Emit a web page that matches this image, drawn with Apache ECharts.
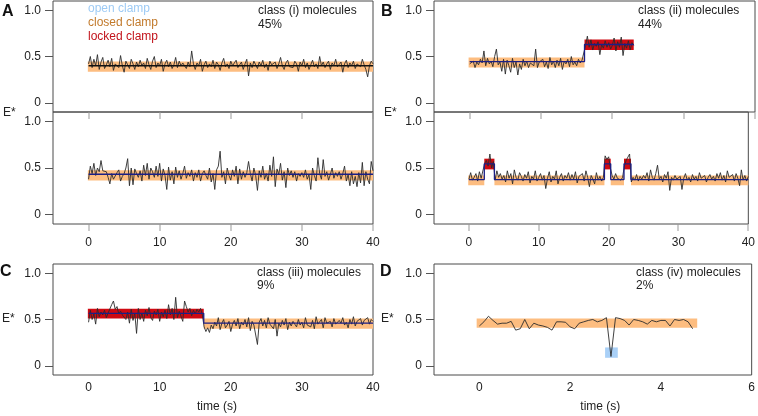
<!DOCTYPE html>
<html>
<head>
<meta charset="utf-8">
<script src="https://cdn.jsdelivr.net/npm/echarts@6/dist/echarts.min.js"></script>
<style>
  html, body { margin: 0; padding: 0; background: #fff; }
  #chart { width: 758px; height: 416px; }
</style>
</head>
<body>
<div id="chart"></div>
<script>
// E* traces sampled every 0.25 s
const dt = 0.25
const traceA1 = [
  0.42,0.50,0.38,0.47,0.40,0.52,0.36,0.44,0.49,0.37,0.41,0.46,0.39,0.48,0.35,0.42,0.44,0.38,0.51,0.40,
  0.33,0.45,0.41,0.37,0.47,0.42,0.36,0.44,0.39,0.46,0.40,0.43,0.37,0.48,0.41,0.36,0.45,0.50,0.38,0.43,
  0.40,0.47,0.34,0.42,0.46,0.39,0.44,0.37,0.41,0.49,0.38,0.45,0.40,0.43,0.41,0.37,0.44,0.39,0.56,0.42,
  0.36,0.43,0.40,0.47,0.34,0.41,0.45,0.38,0.42,0.39,0.46,0.37,0.44,0.41,0.35,0.43,0.48,0.39,0.42,0.37,
  0.45,0.40,0.43,0.46,0.38,0.41,0.44,0.36,0.42,0.47,0.29,0.43,0.38,0.45,0.41,0.37,0.44,0.40,0.46,0.38,
  0.42,0.35,0.45,0.41,0.39,0.44,0.37,0.42,0.49,0.40,0.36,0.43,0.46,0.39,0.41,0.38,0.45,0.42,0.34,0.44,
  0.40,0.47,0.38,0.43,0.36,0.41,0.46,0.39,0.42,0.37,0.50,0.40,0.44,0.38,0.42,0.45,0.36,0.43,0.40,0.47,
  0.39,0.41,0.44,0.33,0.42,0.46,0.38,0.43,0.40,0.45,0.37,0.42,0.44,0.39,0.47,0.41,0.36,0.28,0.40,0.45,0.42
]
const traceA2 = [
  0.38,0.52,0.44,0.55,0.42,0.50,0.46,0.58,0.47,0.45,0.46,0.40,0.33,0.44,0.38,0.40,0.45,0.48,0.36,0.41,
  0.44,0.50,0.60,0.31,0.50,0.32,0.49,0.44,0.40,0.47,0.36,0.53,0.42,0.55,0.38,0.50,0.46,0.40,0.52,0.41,
  0.55,0.36,0.49,0.42,0.27,0.51,0.37,0.46,0.33,0.51,0.40,0.47,0.38,0.44,0.52,0.39,0.45,0.41,0.48,0.36,
  0.45,0.40,0.48,0.36,0.44,0.47,0.42,0.38,0.50,0.35,0.44,0.27,0.48,0.52,0.68,0.40,0.46,0.33,0.50,0.42,
  0.37,0.48,0.41,0.52,0.33,0.49,0.38,0.46,0.40,0.45,0.57,0.44,0.36,0.50,0.42,0.26,0.47,0.40,0.52,0.38,
  0.44,0.36,0.53,0.41,0.62,0.30,0.49,0.43,0.55,0.37,0.46,0.29,0.50,0.42,0.47,0.40,0.46,0.36,0.44,0.41,
  0.45,0.40,0.48,0.38,0.43,0.27,0.50,0.42,0.36,0.61,0.44,0.38,0.59,0.41,0.46,0.37,0.43,0.50,0.39,0.45,
  0.41,0.46,0.38,0.44,0.52,0.36,0.43,0.31,0.46,0.33,0.41,0.30,0.45,0.34,0.56,0.31,0.46,0.38,0.33,0.57,0.47
]
const traceB1 = [
  0.42,0.40,0.45,0.38,0.44,0.41,0.47,0.43,0.56,0.40,0.48,0.42,0.45,0.39,0.50,0.58,0.41,0.44,0.34,0.47,
  0.31,0.46,0.40,0.33,0.48,0.38,0.44,0.30,0.42,0.36,0.47,0.40,0.45,0.38,0.43,0.41,0.40,0.58,0.38,0.44,
  0.42,0.47,0.39,0.44,0.37,0.49,0.41,0.45,0.38,0.46,0.40,0.48,0.36,0.45,0.42,0.47,0.39,0.50,0.41,0.44,
  0.40,0.47,0.43,0.46,0.44,
  0.62,0.72,0.60,0.68,0.57,0.64,0.61,0.66,0.52,0.63,0.59,0.67,0.60,0.65,0.58,0.62,0.70,0.56,0.66,0.60,
  0.71,0.51,0.64,0.59,0.67,0.57,0.65,0.62
]
const traceB2 = [
  0.38,0.45,0.37,0.40,0.44,0.36,0.46,0.39,0.41,0.55,0.58,0.52,0.65,0.50,0.57,0.37,0.47,0.40,0.44,0.38,
  0.42,0.35,0.47,0.39,0.44,0.33,0.48,0.40,0.37,0.45,0.41,0.36,0.43,0.39,0.46,0.34,0.41,0.38,0.47,0.36,
  0.40,0.44,0.37,0.42,0.28,0.39,0.46,0.35,0.41,0.38,0.47,0.33,0.40,0.44,0.36,0.42,0.39,0.45,0.37,0.43,
  0.38,0.46,0.34,0.41,0.39,0.44,0.36,0.47,0.40,0.30,0.42,0.38,0.33,0.45,0.37,0.41,0.36,0.40,0.63,0.59,
  0.62,0.50,0.42,0.38,0.44,0.39,0.41,0.37,0.40,0.52,0.58,0.56,0.65,0.35,0.40,0.37,0.43,0.36,0.41,0.38,
  0.42,0.39,0.45,0.36,0.48,0.40,0.37,0.44,0.53,0.38,0.41,0.35,0.43,0.39,0.46,0.26,0.40,0.37,0.42,0.38,
  0.36,0.41,0.27,0.39,0.44,0.37,0.40,0.35,0.43,0.38,0.41,0.36,0.45,0.39,0.37,0.42,0.35,0.40,0.43,0.38,
  0.41,0.36,0.44,0.39,0.45,0.37,0.42,0.35,0.47,0.40,0.38,0.43,0.36,0.44,0.39,0.31,0.48,0.37,0.42,0.36,0.41
]
const traceC = [
  0.47,0.60,0.50,0.56,0.45,0.62,0.53,0.58,0.55,0.60,0.52,0.57,0.59,0.66,0.70,0.61,0.64,0.56,0.59,0.55,
  0.53,0.50,0.58,0.46,0.61,0.49,0.57,0.35,0.62,0.50,0.57,0.48,0.60,0.54,0.63,0.52,0.49,0.59,0.55,0.61,
  0.48,0.58,0.53,0.60,0.51,0.66,0.55,0.62,0.50,0.74,0.52,0.59,0.57,0.48,0.70,0.64,0.58,0.62,0.54,0.60,
  0.56,0.61,0.58,0.62,0.55,0.42,0.37,0.41,0.36,0.44,0.40,0.47,0.43,0.52,0.39,0.46,0.50,0.41,0.44,0.48,
  0.37,0.45,0.49,0.43,0.51,0.40,0.47,0.44,0.50,0.42,0.52,0.38,0.48,0.44,0.46,0.23,0.47,0.51,0.43,0.49,
  0.41,0.52,0.45,0.47,0.40,0.50,0.32,0.46,0.42,0.49,0.44,0.51,0.39,0.47,0.43,0.48,0.45,0.42,0.50,0.44,
  0.47,0.41,0.52,0.44,0.46,0.42,0.49,0.40,0.53,0.45,0.43,0.50,0.41,0.52,0.46,0.44,0.48,0.42,0.51,0.45,
  0.43,0.49,0.46,0.52,0.44,0.47,0.41,0.50,0.45,0.53,0.43,0.48,0.46,0.51,0.44,0.49,0.47,0.52,0.45,0.50,0.48
]
// class (iv) trace sampled every 0.1 s
const dtD = 0.1
const traceD = [
  0.43,0.475,0.535,0.49,0.45,0.46,0.46,0.48,0.385,0.40,0.50,0.40,0.46,0.44,0.43,0.415,0.385,0.475,0.475,0.47,
  0.42,0.40,0.46,0.475,0.49,0.50,0.475,0.49,0.52,0.10,0.52,0.51,0.49,0.44,0.50,0.49,0.475,0.45,0.49,0.475,
  0.49,0.49,0.43,0.50,0.49,0.50,0.475,0.40
]

// state bands: [start s, end s, low E*, high E*, state]
const bandsA1 = [[-0.1, 40, 0.335, 0.445, 'closed']]
const bandsA2 = [[-0.1, 40, 0.365, 0.475, 'closed']]
const bandsB1 = [[-0.15, 16.1, 0.38, 0.49, 'closed'], [16.1, 23.0, 0.57, 0.685, 'locked']]
const bandsB2 = [
  [-0.1, 2.2, 0.315, 0.42, 'closed'], [2.2, 3.65, 0.485, 0.60, 'locked'],
  [3.65, 19.4, 0.315, 0.42, 'closed'], [19.4, 20.3, 0.485, 0.60, 'locked'],
  [20.3, 22.2, 0.315, 0.42, 'closed'], [22.2, 23.2, 0.485, 0.60, 'locked'],
  [23.2, 40, 0.315, 0.42, 'closed']
]
const bandsC = [[-0.1, 16.2, 0.51, 0.617, 'locked'], [16.2, 40, 0.40, 0.51, 'closed']]
const bandsD = [[-0.06, 4.8, 0.41, 0.51, 'closed'], [2.77, 3.05, 0.086, 0.198, 'open']]

// fitted levels: [time of change, level]
const fitA1 = [[0, 0.40], [40, 0.40]]
const fitA2 = [[0, 0.433], [40, 0.433]]
const fitB1 = [[0, 0.445], [16.1, 0.63], [23.0, 0.63]]
const fitB2 = [[0, 0.376], [2.2, 0.545], [3.65, 0.376], [19.4, 0.545], [20.3, 0.376], [22.2, 0.545], [23.2, 0.376], [40, 0.376]]
const fitC = [[0, 0.567], [16.2, 0.46], [40, 0.46]]

const yTicks = [0, 0.5, 1]
const timeTicks40 = [0, 10, 20, 30, 40]
const timeTicksD = [0, 2, 4, 6]

const bandColor = { open: '#a9d0f7', closed: '#fdbd80', locked: '#cf0a12' }
const FONT = '"Liberation Sans", Arial, Helvetica, sans-serif'

const chart = echarts.init(document.getElementById('chart'))

const grids = [
  { left: 53, top: 1, width: 320, height: 111 },
  { left: 53, top: 112, width: 320, height: 112 },
  { left: 434, top: 1, width: 321, height: 111 },
  { left: 434, top: 112, width: 321, height: 112 },
  { left: 53, top: 264, width: 320, height: 111 },
  { left: 434, top: 264, width: 321, height: 111 },
].map(g => ({ ...g, show: true, borderColor: '#4a4a4a', borderWidth: 1, backgroundColor: 'transparent' }))

const xAxis = grids.map((g, i) => {
  const isD = i === 5
  const ticks = isD ? timeTicksD : timeTicks40
  const axis = {
    gridIndex: i,
    type: 'value',
    position: 'bottom',
    min: isD ? -1 : -5,
    max: isD ? 6 : 40,
    axisLine: { show: false, onZero: false },
    splitLine: { show: false },
    axisTick: { show: false },
    axisLabel: {
      show: i === 1 || i === 3 || i >= 4,
      color: '#222', fontSize: 12, fontFamily: FONT,
      margin: i >= 4 ? 7 : 13,
      customValues: ticks,
    },
  }
  if (i >= 4) {
    axis.name = 'time (s)'
    axis.nameLocation = 'middle'
    axis.nameGap = 26
    axis.nameTextStyle = { color: '#222', fontSize: 12, fontFamily: FONT, padding: isD ? [0, 0, 0, 15] : [0, 0, 0, 8] }
  }
  return axis
})

const yAxis = grids.map((g, i) => ({
  gridIndex: i,
  type: 'value',
  position: 'left',
  min: -0.1,
  max: 1.1,
  axisLine: { show: false, onZero: false },
  splitLine: { show: false },
  axisTick: { show: true, length: 8, customValues: yTicks, lineStyle: { color: '#555' } },
  axisLabel: {
    color: '#222', fontSize: 12, fontFamily: FONT, margin: 12,
    customValues: yTicks,
    formatter: v => (v === 0 ? '0' : v.toFixed(1)),
  },
}))

// time ticks hanging below the bottom edge of the A and B panels
const tickSeries = (ticks, idx) => ({
  type: 'custom',
  xAxisIndex: idx,
  yAxisIndex: idx,
  z: 5,
  silent: true,
  clip: false,
  encode: { x: 0, y: 1 },
  data: ticks.map(t => [t, -0.1]),
  renderItem: (params, api) => {
    const p = api.coord([api.value(0), api.value(1)])
    return {
      type: 'rect',
      shape: { x: Math.round(p[0]) - 0.5, y: p[1], width: 1, height: 7 },
      style: { fill: '#9a9a9a' },
    }
  },
})

const bandSeries = (bands, idx) => ({
  type: 'custom',
  xAxisIndex: idx,
  yAxisIndex: idx,
  z: 1,
  silent: true,
  encode: { x: [0, 1], y: [2, 3] },
  data: bands.map(b => ({ value: b.slice(0, 4), itemStyle: { color: bandColor[b[4]] } })),
  renderItem: (params, api) => {
    const p0 = api.coord([api.value(0), api.value(3)])
    const p1 = api.coord([api.value(1), api.value(2)])
    return {
      type: 'rect',
      shape: { x: p0[0], y: p0[1], width: p1[0] - p0[0], height: p1[1] - p0[1] },
      style: api.style(),
    }
  },
})

const traceSeries = (vals, step, idx) => ({
  type: 'line',
  xAxisIndex: idx,
  yAxisIndex: idx,
  z: 3,
  symbol: 'none',
  silent: true,
  lineStyle: { color: '#2b2b2b', width: 0.9 },
  data: vals.map((v, i) => [+(i * step).toFixed(3), v]),
})

const fitSeries = (fit, idx, color) => ({
  type: 'line',
  xAxisIndex: idx,
  yAxisIndex: idx,
  z: 4,
  step: 'end',
  symbol: 'none',
  silent: true,
  lineStyle: { color: color, width: 1.3 },
  data: fit,
})

const navy = '#1b1f86'

const series = [
  bandSeries(bandsA1, 0), traceSeries(traceA1, dt, 0), fitSeries(fitA1, 0, '#111'),
  bandSeries(bandsA2, 1), traceSeries(traceA2, dt, 1), fitSeries(fitA2, 1, navy),
  bandSeries(bandsB1, 2), traceSeries(traceB1, dt, 2), fitSeries(fitB1, 2, navy),
  bandSeries(bandsB2, 3), traceSeries(traceB2, dt, 3), fitSeries(fitB2, 3, navy),
  bandSeries(bandsC, 4), traceSeries(traceC, dt, 4), fitSeries(fitC, 4, navy),
  bandSeries(bandsD, 5), traceSeries(traceD, dtD, 5),
  tickSeries(timeTicks40, 0), tickSeries(timeTicks40, 1),
  tickSeries(timeTicks40, 2), tickSeries(timeTicks40, 3),
]

const txt = (text, x, y, opts = {}) => ({
  type: 'text',
  x, y,
  z: 10,
  style: {
    text,
    fill: opts.fill || '#222',
    font: opts.font || `12px ${FONT}`,
    align: 'left',
    verticalAlign: 'middle',
  },
})
const bold = `bold 16px ${FONT}`

chart.setOption({
  animation: false,
  grid: grids,
  xAxis,
  yAxis,
  series,
  graphic: [
    txt('A', 2, 12, { font: bold, fill: '#111' }),
    txt('B', 381, 12, { font: bold, fill: '#111' }),
    txt('C', 0, 272, { font: bold, fill: '#111' }),
    txt('D', 380, 272, { font: bold, fill: '#111' }),
    txt('E*', 3, 113),
    txt('E*', 384, 113),
    txt('E*', 2, 319),
    txt('E*', 381, 319),
    txt('open clamp', 88, 9, { fill: '#9ecbf5' }),
    txt('closed clamp', 88, 23, { fill: '#c27a2c' }),
    txt('locked clamp', 88, 37, { fill: '#c2141c' }),
    txt('class (i) molecules', 258, 11),
    txt('45%', 258, 25),
    txt('class (ii) molecules', 638, 11),
    txt('44%', 638, 25),
    txt('class (iii) molecules', 257, 273),
    txt('9%', 257, 286),
    txt('class (iv) molecules', 636, 273),
    txt('2%', 636, 286),
  ],
})
</script>
</body>
</html>
